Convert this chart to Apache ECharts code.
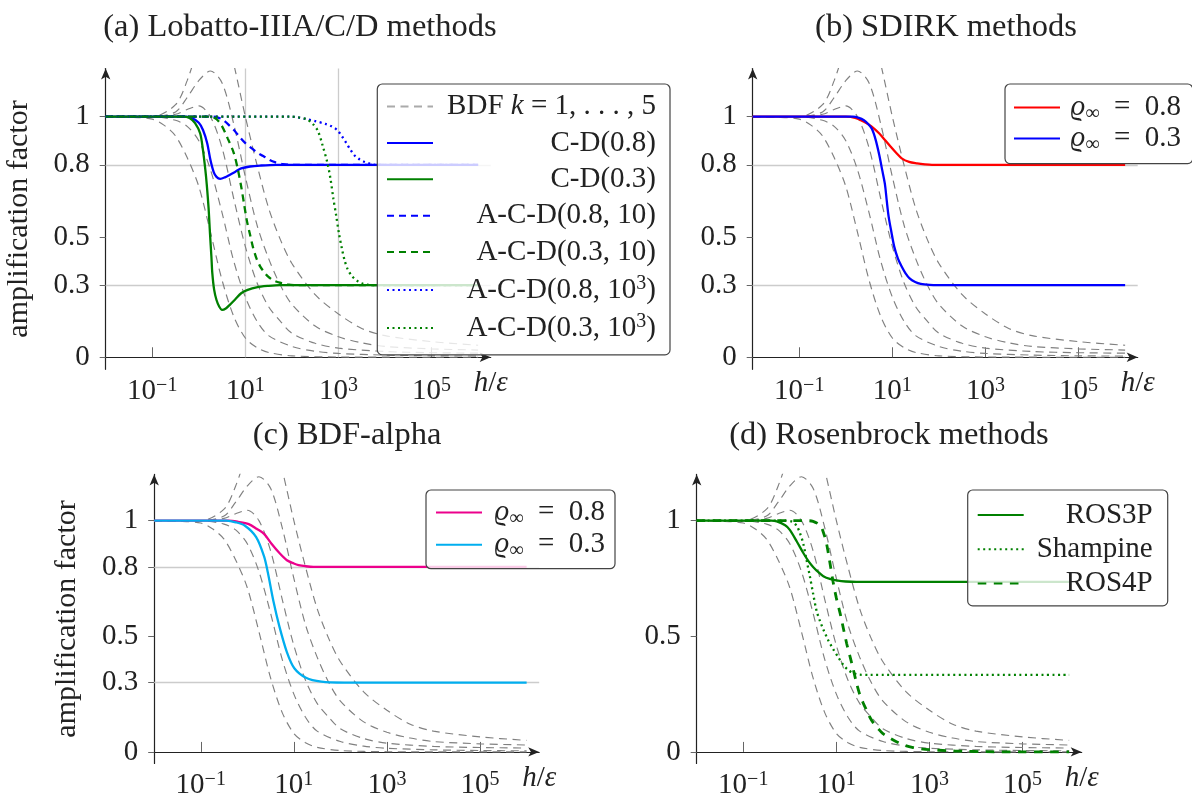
<!DOCTYPE html>
<html><head><meta charset="utf-8">
<script src="https://cdn.jsdelivr.net/npm/echarts@6/dist/echarts.min.js"></script>
<style>html,body{margin:0;padding:0;background:#fff}#c{width:1192px;height:800px}</style>
</head><body><div id="c"></div>
<script>
// ---------- data (x = log10(h/eps)) ----------
const xTicks = [-1, 1, 3, 5];
const xTickExp = {'-1': '−1', '1': '1', '3': '3', '5': '5'};
const yTicksABC = [0, 0.3, 0.5, 0.8, 1];
const yTicksD = [0, 0.5, 1];
const gridY = [0.3, 0.8];
const gridXa = [1, 3];

const bdf1 = [[-2,1],[-1.5,0.998],[-1,0.99],[-0.75,0.965],[-0.5,0.92],[-0.25,0.83],[0,0.71],[0.25,0.52],[0.5,0.32],[0.75,0.17],[1,0.08],[1.25,0.04],[1.5,0.02],[2,0.006],[3,0.001],[6,0]];
const bdf2 = [[-2,1],[-1,1],[-0.5,0.985],[-0.25,0.96],[0,0.9],[0.25,0.78],[0.5,0.6],[0.75,0.4],[1,0.25],[1.25,0.15],[1.5,0.09],[2,0.045],[2.5,0.025],[3,0.016],[4,0.009],[5,0.006],[6,0.005]];
const bdf3 = [[-2,1],[-1,1],[-0.5,1.01],[-0.25,1.03],[0,1.045],[0.25,1.0],[0.5,0.87],[0.75,0.66],[1,0.46],[1.25,0.31],[1.5,0.21],[1.75,0.15],[2,0.1],[2.5,0.058],[3,0.038],[4,0.024],[5,0.019],[6,0.017]];
const bdf4 = [[-2,1],[-1,1],[-0.5,1.02],[-0.25,1.08],[0,1.15],[0.25,1.19],[0.5,1.14],[0.75,0.97],[1,0.75],[1.25,0.55],[1.5,0.41],[1.75,0.3],[2,0.22],[2.5,0.13],[3,0.085],[3.5,0.06],[4,0.045],[5,0.035],[6,0.03]];
const bdf5 = [[-2,1],[-1,1],[-0.5,1.05],[-0.25,1.15],[0,1.3],[0.25,1.45],[0.5,1.42],[0.75,1.22],[1,1.0],[1.25,0.8],[1.5,0.62],[1.75,0.49],[2,0.39],[2.5,0.26],[3,0.18],[3.5,0.12],[4,0.09],[5,0.065],[6,0.05]];

const cd08 = [[-2,1],[-0.3,1],[-0.16,0.995],[0,0.975],[0.09,0.945],[0.18,0.89],[0.25,0.82],[0.32,0.77],[0.38,0.75],[0.46,0.742],[0.56,0.748],[0.66,0.758],[0.8,0.773],[0.91,0.785],[1.1,0.793],[1.32,0.797],[1.65,0.8],[6,0.8]];
const cd03 = [[-2,1],[-0.35,1],[-0.2,0.995],[-0.08,0.973],[0.03,0.93],[0.09,0.86],[0.14,0.78],[0.17,0.72],[0.21,0.62],[0.24,0.515],[0.27,0.42],[0.29,0.35],[0.33,0.28],[0.38,0.238],[0.44,0.21],[0.5,0.197],[0.58,0.203],[0.66,0.217],[0.78,0.24],[0.91,0.266],[1.05,0.28],[1.24,0.291],[1.5,0.297],[1.74,0.3],[6,0.3]];
const acd08_10 = [[-2,1],[0.3,1],[0.5,0.99],[0.62,0.97],[0.75,0.946],[0.88,0.915],[1.0,0.89],[1.16,0.865],[1.3,0.845],[1.4,0.835],[1.52,0.82],[1.65,0.81],[1.8,0.803],[1.98,0.8],[6,0.8]];
const acd03_10 = [[-2,1],[0.25,1],[0.38,0.99],[0.5,0.96],[0.62,0.91],[0.75,0.85],[0.84,0.78],[0.91,0.71],[0.97,0.64],[1.03,0.57],[1.1,0.51],[1.16,0.46],[1.24,0.41],[1.32,0.377],[1.4,0.355],[1.49,0.335],[1.6,0.32],[1.74,0.31],[1.9,0.303],[2.06,0.3],[6,0.3]];
const acd08_1e3 = [[-2,1],[1.95,1],[2.1,0.998],[2.31,0.99],[2.5,0.982],[2.72,0.97],[2.85,0.96],[2.97,0.945],[3.07,0.92],[3.17,0.89],[3.26,0.862],[3.34,0.84],[3.45,0.823],[3.55,0.813],[3.67,0.805],[3.79,0.8],[6,0.8]];
const acd03_1e3 = [[-2,1],[2.0,1],[2.15,0.997],[2.31,0.99],[2.45,0.97],[2.56,0.94],[2.66,0.88],[2.76,0.81],[2.83,0.74],[2.89,0.66],[2.95,0.59],[3.01,0.515],[3.07,0.455],[3.13,0.404],[3.2,0.365],[3.3,0.335],[3.4,0.318],[3.5,0.307],[3.62,0.302],[3.75,0.3],[6,0.3]];

const sdirk08 = [[-2,1],[0,1],[0.2,0.995],[0.39,0.979],[0.55,0.96],[0.72,0.93],[0.84,0.903],[0.96,0.876],[1.08,0.85],[1.2,0.827],[1.36,0.812],[1.53,0.806],[1.7,0.802],[1.85,0.8],[6,0.8]];
const sdirk03 = [[-2,1],[0.15,1],[0.28,0.995],[0.39,0.985],[0.48,0.97],[0.56,0.95],[0.64,0.905],[0.72,0.84],[0.78,0.78],[0.84,0.72],[0.88,0.65],[0.92,0.585],[0.98,0.52],[1.04,0.46],[1.12,0.41],[1.2,0.377],[1.28,0.35],[1.37,0.328],[1.49,0.313],[1.61,0.305],[1.8,0.301],[1.98,0.3],[6,0.3]];

const bdfa08 = [[-2,1],[-0.4,1],[-0.2,0.995],[0.03,0.985],[0.2,0.965],[0.36,0.943],[0.52,0.9],[0.69,0.86],[0.85,0.829],[1.0,0.815],[1.1,0.808],[1.25,0.803],[1.42,0.8],[6,0.8]];
const bdfa03 = [[-2,1],[-0.45,1],[-0.25,0.993],[-0.05,0.978],[0.19,0.929],[0.36,0.846],[0.44,0.777],[0.56,0.653],[0.69,0.542],[0.85,0.432],[1.01,0.362],[1.26,0.321],[1.59,0.304],[2.08,0.3],[6,0.3]];

const ros3p = [[-2,1],[-0.4,1],[-0.28,0.997],[-0.1,0.98],[0,0.96],[0.15,0.91],[0.29,0.86],[0.4,0.825],[0.5,0.8],[0.62,0.776],[0.72,0.76],[0.86,0.748],[1.0,0.742],[1.2,0.737],[1.43,0.735],[6,0.735]];
const shampine = [[-2,1],[-0.1,1],[0.05,0.995],[0.15,0.977],[0.22,0.945],[0.29,0.9],[0.36,0.83],[0.43,0.76],[0.5,0.685],[0.575,0.61],[0.65,0.565],[0.72,0.53],[0.82,0.485],[0.93,0.445],[1.04,0.41],[1.15,0.376],[1.25,0.355],[1.36,0.341],[1.5,0.334],[1.7,0.333],[6,0.333]];
const ros4p = [[-2,1],[0.36,1],[0.5,0.997],[0.65,0.98],[0.72,0.95],[0.79,0.9],[0.86,0.82],[0.93,0.735],[1.0,0.665],[1.08,0.6],[1.15,0.535],[1.22,0.47],[1.29,0.415],[1.36,0.36],[1.43,0.3],[1.5,0.25],[1.58,0.21],[1.65,0.18],[1.72,0.15],[1.79,0.127],[1.9,0.1],[2.0,0.079],[2.15,0.06],[2.29,0.044],[2.45,0.03],[2.65,0.019],[2.8,0.014],[3.0,0.01],[3.4,0.005],[3.72,0.003],[4.2,0.001],[5,0.0003],[6,0]];

const titles = ['(a) Lobatto-IIIA/C/D methods', '(b) SDIRK methods', '(c) BDF-alpha', '(d) Rosenbrock methods'];

// ---------- layout ----------
const FONT = '"Liberation Serif", "DejaVu Serif", serif';
const TXT = '#222';
const GRIDS = [
  {left: 105.7, top: 68.6, width: 385, height: 300.7},
  {left: 752.7, top: 68.6, width: 385, height: 300.7},
  {left: 154.2, top: 474.4, width: 385, height: 301.6},
  {left: 696.7, top: 474.4, width: 385, height: 301.6}
];
const titleCenters = [[300, 9], [946, 9], [347, 417], [889, 417]];

const rich = {
  n: {fontFamily: FONT, fontSize: 29, lineHeight: 32, color: TXT},
  s: {fontFamily: FONT, fontSize: 20, lineHeight: 17, verticalAlign: 'top', color: TXT},
  i: {fontFamily: FONT, fontSize: 29, lineHeight: 32, fontStyle: 'italic', color: TXT},
  u: {fontFamily: FONT, fontSize: 20, lineHeight: 17, verticalAlign: 'bottom', color: TXT}
};
function richAlign(al) {
  const r = {};
  for (const k in rich) r[k] = Object.assign({}, rich[k], {align: al});
  return r;
}

const labelMap = {
  bdf: '{n|BDF }{i|k}{n| = 1, . . . , 5}',
  cd08: '{n|C-D(0.8)}',
  cd03: '{n|C-D(0.3)}',
  acd08_10: '{n|A-C-D(0.8, 10)}',
  acd03_10: '{n|A-C-D(0.3, 10)}',
  acd08_1e3: '{n|A-C-D(0.8, 10}{s|3}{n|)}',
  acd03_1e3: '{n|A-C-D(0.3, 10}{s|3}{n|)}',
  sdirk08: '{i|ϱ}{u|∞}{n|\u2002=\u20020.8}',
  sdirk03: '{i|ϱ}{u|∞}{n|\u2002=\u20020.3}',
  bdfa08: '{i|ϱ}{u|∞}{n|\u2002=\u20020.8}',
  bdfa03: '{i|ϱ}{u|∞}{n|\u2002=\u20020.3}',
  ros3p: '{n|ROS3P}',
  shampine: '{n|Shampine}',
  ros4p: '{n|ROS4P}'
};

const series = [];
function addLine(name, data, gi, color, width, type, z) {
  series.push({
    type: 'line', name, data, xAxisIndex: gi, yAxisIndex: gi,
    smooth: 0.3, symbol: 'none', silent: true, clip: true, z,
    lineStyle: {color, width, type}, itemStyle: {color},
    emphasis: {disabled: true}
  });
}
const bdfs = [bdf1, bdf2, bdf3, bdf4, bdf5];
for (let g = 0; g < 4; g++) {
  bdfs.forEach(d => addLine('bdf', d, g, '#808080', 1.15, [8, 5.5], 2));
  const ml = [];
  if (g < 3) gridY.forEach(v => ml.push({yAxis: v}));
  if (g === 0) gridXa.forEach(v => ml.push([{coord: [v, 0]}, {coord: [v, 1.2]}]));
  if (ml.length) {
    series[series.length - 5].markLine = {
      silent: true, symbol: 'none', label: {show: false}, animation: false,
      lineStyle: {color: '#cccccc', width: 1.3, type: 'solid'}, data: ml, z: 1
    };
  }
}
const BLUE = '#0000ff', GREEN = '#008000';
addLine('cd08', cd08, 0, BLUE, 2.3, 'solid', 3);
addLine('cd03', cd03, 0, GREEN, 2.3, 'solid', 3);
addLine('acd08_10', acd08_10, 0, BLUE, 2.3, [7, 5], 3);
addLine('acd03_10', acd03_10, 0, GREEN, 2.3, [7, 5], 3);
addLine('acd08_1e3', acd08_1e3, 0, BLUE, 2.3, [2, 3.5], 3);
addLine('acd03_1e3', acd03_1e3, 0, GREEN, 2.3, [2, 3.5], 3);
addLine('sdirk08', sdirk08, 1, '#ff0000', 2.3, 'solid', 3);
addLine('sdirk03', sdirk03, 1, BLUE, 2.3, 'solid', 3);
addLine('bdfa08', bdfa08, 2, '#ec008c', 2.3, 'solid', 3);
addLine('bdfa03', bdfa03, 2, '#00aeef', 2.3, 'solid', 3);
addLine('ros3p', ros3p, 3, GREEN, 2.3, 'solid', 3);
addLine('shampine', shampine, 3, GREEN, 2.3, [2, 3.5], 3);
addLine('ros4p', ros4p, 3, GREEN, 2.8, [8.6, 7.5], 3);

const xAxes = GRIDS.map((g, i) => ({
  type: 'value', gridIndex: i, min: -2, max: 6.27,
  axisLine: {show: true, onZero: true, symbol: ['none', 'arrow'], symbolSize: [7, 11], lineStyle: {color: '#222', width: 1.2}},
  axisTick: {show: true, customValues: xTicks, inside: true, length: 10, lineStyle: {color: '#666', width: 1}},
  axisLabel: {show: true, customValues: xTicks, margin: 6,
    formatter: v => '{n|10}{s|' + xTickExp[String(v)] + '}', rich: rich},
  splitLine: {show: false},
  name: '{i|h}{n|/}{i|ε}', nameLocation: 'end', nameGap: 0,
  nameTextStyle: {align: 'center', verticalAlign: 'top', padding: [10, 0, 0, 0], rich: rich}
}));
const yAxes = GRIDS.map((g, i) => ({
  type: 'value', gridIndex: i, min: -0.05, max: 1.2,
  axisLine: {show: true, onZero: false, symbol: ['none', 'arrow'], symbolSize: [7, 11], lineStyle: {color: '#222', width: 1.2}},
  axisTick: {show: true, customValues: i === 3 ? yTicksD : yTicksABC, inside: false, length: 6, lineStyle: {color: '#666', width: 1}},
  axisLabel: {show: true, customValues: i === 3 ? yTicksD : yTicksABC, margin: 16,
    formatter: v => String(Math.round(v * 10) / 10), fontFamily: FONT, fontSize: 29, color: TXT},
  splitLine: {show: false},
  name: (i === 0 || i === 2) ? 'amplification factor' : '',
  nameLocation: 'middle', nameGap: 72,
  nameTextStyle: {fontFamily: FONT, fontSize: 30, color: TXT}
}));

function legend(names, left, top, pad, gap, textW, align) {
  const o = {
    show: true, orient: 'vertical', left, top, padding: pad, itemGap: gap,
    itemWidth: 46, itemHeight: 14, selectedMode: false,
    borderColor: '#444', borderWidth: 1.2, borderRadius: 5,
    backgroundColor: 'rgba(255,255,255,0.8)',
    itemStyle: {opacity: 0, color: 'transparent', borderWidth: 0},
    data: names,
    formatter: n => labelMap[n],
    textStyle: {fontFamily: FONT, fontSize: 29, color: TXT, rich: richAlign(align)}
  };
  if (textW) o.textStyle.width = textW;
  return o;
}
const legends = [
  legend([{name: 'bdf', lineStyle: {color: '#aaaaaa'}}, 'cd08', 'cd03', 'acd08_10', 'acd03_10', 'acd08_1e3', 'acd03_1e3'],
    377.3, 84, [8, 14, 12.5, 8.7], 7.4, 218, 'right'),
  legend(['sdirk08', 'sdirk03'], 1005, 84, [9, 11.7, 9, 8], 0.6, 116, 'right'),
  legend(['bdfa08', 'bdfa03'], 426, 490, [8, 10, 8, 9], 1.7, 118, 'right'),
  legend(['ros3p', 'shampine', 'ros4p'], 967.7, 490, [10.5, 15, 8, 9], 5.2, 124, 'right')
];

const option = {
  animation: false,
  backgroundColor: '#ffffff',
  title: titles.map((t, i) => ({
    text: t, left: titleCenters[i][0], top: titleCenters[i][1], textAlign: 'center', padding: 0,
    textStyle: {fontFamily: FONT, fontSize: 32.5, fontWeight: 'normal', color: TXT, lineHeight: 36}
  })),
  grid: GRIDS.map(g => Object.assign({containLabel: false}, g)),
  xAxis: xAxes,
  yAxis: yAxes,
  legend: legends,
  series
};
const chart = echarts.init(document.getElementById('c'), null, {renderer: 'canvas'});
chart.setOption(option);
</script></body></html>
